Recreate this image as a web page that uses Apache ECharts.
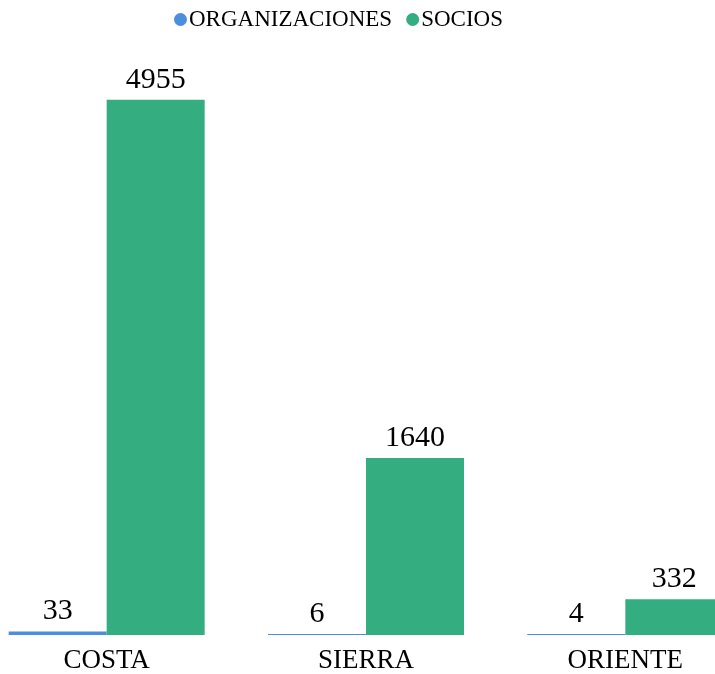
<!DOCTYPE html>
<html>
<head>
<meta charset="utf-8">
<script src="https://cdn.jsdelivr.net/npm/echarts@6/dist/echarts.min.js"></script>
<style>
  html, body { margin: 0; padding: 0; background: #fff; overflow: hidden; }
  #wrap { width: 715px; height: 674px; overflow: hidden; position: relative; }
  /* the plot is wider than the window: the reference is cropped at both sides */
  #chart { width: 778px; height: 674px; position: absolute; left: -23px; top: 0; }
</style>
</head>
<body>
<div id="wrap"><div id="chart"></div></div>
<script>
// regiones
var regiones = ['COSTA', 'SIERRA', 'ORIENTE'];
// valores por serie
var organizaciones = [33, 6, 4];
var socios = [4955, 1640, 332];

var chart = echarts.init(document.getElementById('chart'));
var serif = '"Liberation Serif", "DejaVu Serif", serif';

var labelStyle = { show: true, position: 'top', distance: 5, fontFamily: serif, fontSize: 30, color: '#000' };

var option = {
    animation: false,
    textStyle: { fontFamily: serif },
    legend: {
        top: 3,
        left: 192,
        icon: 'circle',
        itemWidth: 13,
        itemHeight: 13,
        itemGap: 14,
        textStyle: { fontFamily: serif, fontSize: 23, color: '#000', padding: [0, 0, 0, -3] },
        data: ['ORGANIZACIONES', 'SOCIOS']
    },
    grid: {
        left: 0,
        right: 0,
        top: 41,
        bottom: 38
    },
    xAxis: {
        type: 'category',
        data: regiones,
        axisLine: { show: false },
        axisTick: { show: false },
        axisLabel: { fontFamily: serif, fontSize: 27, color: '#000', margin: 12 }
    },
    yAxis: {
        type: 'value',
        min: 0,
        max: 5500,
        show: false,
        splitLine: { show: false }
    },
    series: [
        {
            name: 'ORGANIZACIONES',
            type: 'bar',
            data: organizaciones,
            barWidth: 98,
            barGap: 0,
            barMinHeight: 1,
            itemStyle: { color: '#4a8edc' },
            label: labelStyle
        },
        {
            name: 'SOCIOS',
            type: 'bar',
            data: socios,
            barWidth: 98,
            barGap: 0,
            itemStyle: { color: '#34ae80' },
            label: labelStyle
        }
    ]
};

chart.setOption(option);
</script>
</body>
</html>
